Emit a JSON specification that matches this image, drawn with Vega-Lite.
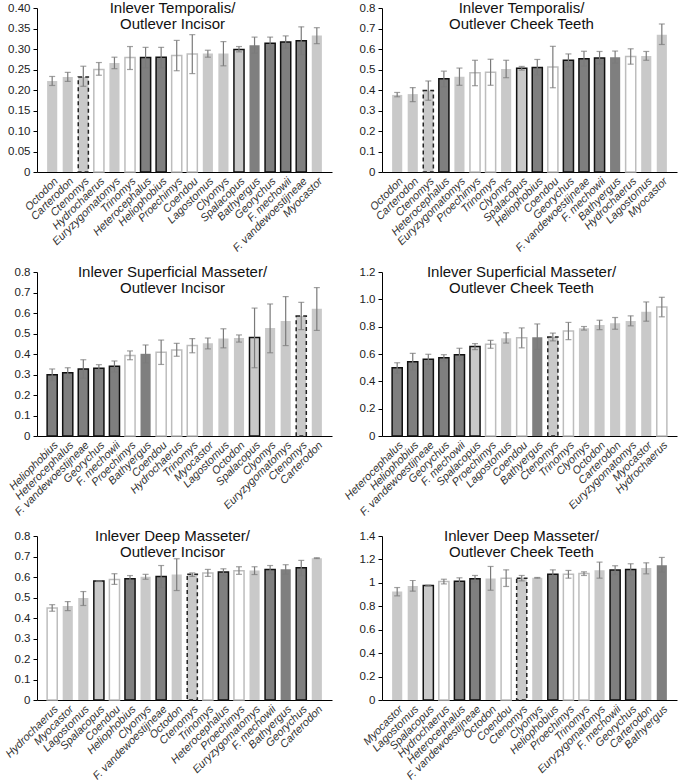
{
  "$schema": "https://vega.github.io/schema/vega-lite/v6.json",
  "padding": {"left": 3, "top": 1, "right": 3, "bottom": 0},
  "bounds": "flush",
  "columns": 2,
  "spacing": {"row": 100, "column": 50},
  "datasets": {
    "ratios": [
      {"panel": "TI", "species": "Octodon", "cls": "Octodontoidea", "value": 0.222, "lo": 0.211, "hi": 0.233},
      {"panel": "TI", "species": "Carterodon", "cls": "Octodontoidea", "value": 0.232, "lo": 0.221, "hi": 0.243},
      {"panel": "TI", "species": "Ctenomys", "cls": "Ctenomys", "value": 0.232, "lo": 0.209, "hi": 0.258},
      {"panel": "TI", "species": "Hydrochaerus", "cls": "Other", "value": 0.250, "lo": 0.236, "hi": 0.267},
      {"panel": "TI", "species": "Euryzygomatomys", "cls": "Octodontoidea", "value": 0.266, "lo": 0.252, "hi": 0.280},
      {"panel": "TI", "species": "Trinomys", "cls": "Other", "value": 0.279, "lo": 0.250, "hi": 0.306},
      {"panel": "TI", "species": "Heterocephalus", "cls": "Bathyergidae chisel", "value": 0.279, "lo": 0.254, "hi": 0.304},
      {"panel": "TI", "species": "Heliophobius", "cls": "Bathyergidae chisel", "value": 0.280, "lo": 0.254, "hi": 0.304},
      {"panel": "TI", "species": "Proechimys", "cls": "Other", "value": 0.284, "lo": 0.247, "hi": 0.321},
      {"panel": "TI", "species": "Coendou", "cls": "Other", "value": 0.288, "lo": 0.240, "hi": 0.335},
      {"panel": "TI", "species": "Lagostomus", "cls": "Octodontoidea", "value": 0.289, "lo": 0.280, "hi": 0.297},
      {"panel": "TI", "species": "Clyomys", "cls": "Octodontoidea", "value": 0.289, "lo": 0.259, "hi": 0.318},
      {"panel": "TI", "species": "Spalacopus", "cls": "Spalacopus", "value": 0.299, "lo": 0.293, "hi": 0.306},
      {"panel": "TI", "species": "Bathyergus", "cls": "Bathyergidae scratch", "value": 0.309, "lo": 0.290, "hi": 0.329},
      {"panel": "TI", "species": "Georychus", "cls": "Bathyergidae chisel", "value": 0.314, "lo": 0.299, "hi": 0.329},
      {"panel": "TI", "species": "F. mechowii", "cls": "Bathyergidae chisel", "value": 0.317, "lo": 0.302, "hi": 0.332},
      {"panel": "TI", "species": "F. vandewoestijneae", "cls": "Bathyergidae chisel", "value": 0.320, "lo": 0.286, "hi": 0.354},
      {"panel": "TI", "species": "Myocastor", "cls": "Octodontoidea", "value": 0.333, "lo": 0.313, "hi": 0.352},

      {"panel": "TC", "species": "Octodon", "cls": "Octodontoidea", "value": 0.376, "lo": 0.367, "hi": 0.388},
      {"panel": "TC", "species": "Carterodon", "cls": "Octodontoidea", "value": 0.380, "lo": 0.343, "hi": 0.412},
      {"panel": "TC", "species": "Ctenomys", "cls": "Ctenomys", "value": 0.397, "lo": 0.350, "hi": 0.444},
      {"panel": "TC", "species": "Heterocephalus", "cls": "Bathyergidae chisel", "value": 0.455, "lo": 0.416, "hi": 0.492},
      {"panel": "TC", "species": "Euryzygomatomys", "cls": "Octodontoidea", "value": 0.465, "lo": 0.423, "hi": 0.507},
      {"panel": "TC", "species": "Proechimys", "cls": "Other", "value": 0.484, "lo": 0.421, "hi": 0.545},
      {"panel": "TC", "species": "Trinomys", "cls": "Other", "value": 0.487, "lo": 0.423, "hi": 0.550},
      {"panel": "TC", "species": "Clyomys", "cls": "Octodontoidea", "value": 0.502, "lo": 0.460, "hi": 0.545},
      {"panel": "TC", "species": "Spalacopus", "cls": "Spalacopus", "value": 0.506, "lo": 0.497, "hi": 0.515},
      {"panel": "TC", "species": "Heliophobius", "cls": "Bathyergidae chisel", "value": 0.510, "lo": 0.474, "hi": 0.549},
      {"panel": "TC", "species": "Coendou", "cls": "Other", "value": 0.512, "lo": 0.411, "hi": 0.613},
      {"panel": "TC", "species": "Georychus", "cls": "Bathyergidae chisel", "value": 0.545, "lo": 0.513, "hi": 0.576},
      {"panel": "TC", "species": "F. vandewoestijneae", "cls": "Bathyergidae chisel", "value": 0.553, "lo": 0.517, "hi": 0.589},
      {"panel": "TC", "species": "F. mechowii", "cls": "Bathyergidae chisel", "value": 0.556, "lo": 0.527, "hi": 0.588},
      {"panel": "TC", "species": "Bathyergus", "cls": "Bathyergidae scratch", "value": 0.560, "lo": 0.531, "hi": 0.590},
      {"panel": "TC", "species": "Hydrochaerus", "cls": "Other", "value": 0.563, "lo": 0.526, "hi": 0.601},
      {"panel": "TC", "species": "Lagostomus", "cls": "Octodontoidea", "value": 0.566, "lo": 0.545, "hi": 0.588},
      {"panel": "TC", "species": "Myocastor", "cls": "Octodontoidea", "value": 0.670, "lo": 0.622, "hi": 0.722},

      {"panel": "SI", "species": "Heliophobius", "cls": "Bathyergidae chisel", "value": 0.299, "lo": 0.270, "hi": 0.327},
      {"panel": "SI", "species": "Heterocephalus", "cls": "Bathyergidae chisel", "value": 0.308, "lo": 0.283, "hi": 0.333},
      {"panel": "SI", "species": "F. vandewoestijneae", "cls": "Bathyergidae chisel", "value": 0.327, "lo": 0.281, "hi": 0.372},
      {"panel": "SI", "species": "Georychus", "cls": "Bathyergidae chisel", "value": 0.330, "lo": 0.312, "hi": 0.348},
      {"panel": "SI", "species": "F. mechowii", "cls": "Bathyergidae chisel", "value": 0.340, "lo": 0.312, "hi": 0.366},
      {"panel": "SI", "species": "Proechimys", "cls": "Other", "value": 0.393, "lo": 0.372, "hi": 0.415},
      {"panel": "SI", "species": "Bathyergus", "cls": "Bathyergidae scratch", "value": 0.401, "lo": 0.357, "hi": 0.444},
      {"panel": "SI", "species": "Coendou", "cls": "Other", "value": 0.408, "lo": 0.349, "hi": 0.468},
      {"panel": "SI", "species": "Hydrochaerus", "cls": "Other", "value": 0.420, "lo": 0.389, "hi": 0.452},
      {"panel": "SI", "species": "Trinomys", "cls": "Other", "value": 0.441, "lo": 0.406, "hi": 0.475},
      {"panel": "SI", "species": "Myocastor", "cls": "Octodontoidea", "value": 0.452, "lo": 0.425, "hi": 0.478},
      {"panel": "SI", "species": "Lagostomus", "cls": "Octodontoidea", "value": 0.476, "lo": 0.430, "hi": 0.523},
      {"panel": "SI", "species": "Octodon", "cls": "Octodontoidea", "value": 0.478, "lo": 0.458, "hi": 0.493},
      {"panel": "SI", "species": "Spalacopus", "cls": "Spalacopus", "value": 0.480, "lo": 0.333, "hi": 0.624},
      {"panel": "SI", "species": "Clyomys", "cls": "Octodontoidea", "value": 0.527, "lo": 0.406, "hi": 0.644},
      {"panel": "SI", "species": "Euryzygomatomys", "cls": "Octodontoidea", "value": 0.561, "lo": 0.441, "hi": 0.680},
      {"panel": "SI", "species": "Ctenomys", "cls": "Ctenomys", "value": 0.585, "lo": 0.519, "hi": 0.652},
      {"panel": "SI", "species": "Carterodon", "cls": "Octodontoidea", "value": 0.621, "lo": 0.515, "hi": 0.724},

      {"panel": "SC", "species": "Heterocephalus", "cls": "Bathyergidae chisel", "value": 0.500, "lo": 0.458, "hi": 0.536},
      {"panel": "SC", "species": "Heliophobius", "cls": "Bathyergidae chisel", "value": 0.544, "lo": 0.483, "hi": 0.605},
      {"panel": "SC", "species": "F. vandewoestijneae", "cls": "Bathyergidae chisel", "value": 0.561, "lo": 0.524, "hi": 0.598},
      {"panel": "SC", "species": "Georychus", "cls": "Bathyergidae chisel", "value": 0.573, "lo": 0.549, "hi": 0.595},
      {"panel": "SC", "species": "F. mechowii", "cls": "Bathyergidae chisel", "value": 0.595, "lo": 0.551, "hi": 0.642},
      {"panel": "SC", "species": "Spalacopus", "cls": "Spalacopus", "value": 0.654, "lo": 0.632, "hi": 0.676},
      {"panel": "SC", "species": "Proechimys", "cls": "Other", "value": 0.671, "lo": 0.642, "hi": 0.700},
      {"panel": "SC", "species": "Lagostomus", "cls": "Octodontoidea", "value": 0.716, "lo": 0.680, "hi": 0.755},
      {"panel": "SC", "species": "Coendou", "cls": "Other", "value": 0.718, "lo": 0.645, "hi": 0.791},
      {"panel": "SC", "species": "Bathyergus", "cls": "Bathyergidae scratch", "value": 0.722, "lo": 0.634, "hi": 0.820},
      {"panel": "SC", "species": "Ctenomys", "cls": "Ctenomys", "value": 0.725, "lo": 0.696, "hi": 0.753},
      {"panel": "SC", "species": "Trinomys", "cls": "Other", "value": 0.769, "lo": 0.705, "hi": 0.831},
      {"panel": "SC", "species": "Clyomys", "cls": "Octodontoidea", "value": 0.789, "lo": 0.775, "hi": 0.801},
      {"panel": "SC", "species": "Octodon", "cls": "Octodontoidea", "value": 0.813, "lo": 0.778, "hi": 0.847},
      {"panel": "SC", "species": "Carterodon", "cls": "Octodontoidea", "value": 0.825, "lo": 0.781, "hi": 0.867},
      {"panel": "SC", "species": "Euryzygomatomys", "cls": "Octodontoidea", "value": 0.842, "lo": 0.806, "hi": 0.879},
      {"panel": "SC", "species": "Myocastor", "cls": "Octodontoidea", "value": 0.909, "lo": 0.840, "hi": 0.981},
      {"panel": "SC", "species": "Hydrochaerus", "cls": "Other", "value": 0.943, "lo": 0.872, "hi": 1.015},

      {"panel": "DI", "species": "Hydrochaerus", "cls": "Other", "value": 0.449, "lo": 0.433, "hi": 0.465},
      {"panel": "DI", "species": "Myocastor", "cls": "Octodontoidea", "value": 0.459, "lo": 0.436, "hi": 0.480},
      {"panel": "DI", "species": "Lagostomus", "cls": "Octodontoidea", "value": 0.497, "lo": 0.461, "hi": 0.529},
      {"panel": "DI", "species": "Spalacopus", "cls": "Spalacopus", "value": 0.580, "lo": 0.578, "hi": 0.582},
      {"panel": "DI", "species": "Coendou", "cls": "Other", "value": 0.588, "lo": 0.564, "hi": 0.616},
      {"panel": "DI", "species": "Heliophobius", "cls": "Bathyergidae chisel", "value": 0.591, "lo": 0.573, "hi": 0.607},
      {"panel": "DI", "species": "Clyomys", "cls": "Octodontoidea", "value": 0.601, "lo": 0.589, "hi": 0.613},
      {"panel": "DI", "species": "F. vandewoestijneae", "cls": "Bathyergidae chisel", "value": 0.603, "lo": 0.548, "hi": 0.656},
      {"panel": "DI", "species": "Octodon", "cls": "Octodontoidea", "value": 0.612, "lo": 0.534, "hi": 0.689},
      {"panel": "DI", "species": "Ctenomys", "cls": "Ctenomys", "value": 0.613, "lo": 0.603, "hi": 0.620},
      {"panel": "DI", "species": "Trinomys", "cls": "Other", "value": 0.620, "lo": 0.603, "hi": 0.637},
      {"panel": "DI", "species": "Heterocephalus", "cls": "Bathyergidae chisel", "value": 0.624, "lo": 0.607, "hi": 0.640},
      {"panel": "DI", "species": "Proechimys", "cls": "Other", "value": 0.631, "lo": 0.613, "hi": 0.650},
      {"panel": "DI", "species": "Euryzygomatomys", "cls": "Octodontoidea", "value": 0.632, "lo": 0.612, "hi": 0.650},
      {"panel": "DI", "species": "F. mechowii", "cls": "Bathyergidae chisel", "value": 0.637, "lo": 0.617, "hi": 0.656},
      {"panel": "DI", "species": "Bathyergus", "cls": "Bathyergidae scratch", "value": 0.638, "lo": 0.614, "hi": 0.660},
      {"panel": "DI", "species": "Georychus", "cls": "Bathyergidae chisel", "value": 0.645, "lo": 0.607, "hi": 0.681},
      {"panel": "DI", "species": "Carterodon", "cls": "Octodontoidea", "value": 0.692, "lo": 0.690, "hi": 0.694},

      {"panel": "DC", "species": "Myocastor", "cls": "Octodontoidea", "value": 0.926, "lo": 0.889, "hi": 0.960},
      {"panel": "DC", "species": "Lagostomus", "cls": "Octodontoidea", "value": 0.974, "lo": 0.929, "hi": 1.020},
      {"panel": "DC", "species": "Spalacopus", "cls": "Spalacopus", "value": 0.977, "lo": 0.974, "hi": 0.980},
      {"panel": "DC", "species": "Hydrochaerus", "cls": "Other", "value": 1.011, "lo": 0.991, "hi": 1.031},
      {"panel": "DC", "species": "Heterocephalus", "cls": "Bathyergidae chisel", "value": 1.014, "lo": 0.986, "hi": 1.043},
      {"panel": "DC", "species": "F. vandewoestijneae", "cls": "Bathyergidae chisel", "value": 1.034, "lo": 1.006, "hi": 1.063},
      {"panel": "DC", "species": "Octodon", "cls": "Octodontoidea", "value": 1.038, "lo": 0.937, "hi": 1.140},
      {"panel": "DC", "species": "Coendou", "cls": "Other", "value": 1.039, "lo": 0.969, "hi": 1.111},
      {"panel": "DC", "species": "Ctenomys", "cls": "Ctenomys", "value": 1.040, "lo": 1.017, "hi": 1.063},
      {"panel": "DC", "species": "Clyomys", "cls": "Octodontoidea", "value": 1.043, "lo": 1.040, "hi": 1.046},
      {"panel": "DC", "species": "Heliophobius", "cls": "Bathyergidae chisel", "value": 1.073, "lo": 1.034, "hi": 1.111},
      {"panel": "DC", "species": "Proechimys", "cls": "Other", "value": 1.074, "lo": 1.040, "hi": 1.106},
      {"panel": "DC", "species": "Trinomys", "cls": "Other", "value": 1.080, "lo": 1.063, "hi": 1.094},
      {"panel": "DC", "species": "Euryzygomatomys", "cls": "Octodontoidea", "value": 1.108, "lo": 1.040, "hi": 1.177},
      {"panel": "DC", "species": "F. mechowii", "cls": "Bathyergidae chisel", "value": 1.109, "lo": 1.071, "hi": 1.146},
      {"panel": "DC", "species": "Georychus", "cls": "Bathyergidae chisel", "value": 1.114, "lo": 1.066, "hi": 1.163},
      {"panel": "DC", "species": "Carterodon", "cls": "Octodontoidea", "value": 1.126, "lo": 1.077, "hi": 1.171},
      {"panel": "DC", "species": "Bathyergus", "cls": "Bathyergidae scratch", "value": 1.151, "lo": 1.091, "hi": 1.217}
    ]
  },
  "concat": [
    {
      "title": {"text": ["Inlever Temporalis/", "Outlever Incisor"], "dx": -12},
      "width": 295, "height": 164,
      "data": {"name": "ratios"},
      "transform": [{"filter": "datum.panel == 'TI'"}],
      "encoding": {
        "x": {"field": "species", "type": "nominal", "sort": {"field": "value", "op": "mean"}, "title": null, "scale": {"paddingInner": 0.35, "paddingOuter": 0.65}}
      },
      "layer": [
        {"mark": {"type": "bar", "strokeWidth": 1.5},
         "encoding": {
           "y": {"field": "value", "type": "quantitative", "title": null, "scale": {"domain": [0, 0.4], "nice": false}, "axis": {"values": [0, 0.05, 0.1, 0.15, 0.2, 0.25, 0.3, 0.35, 0.4], "labelExpr": "datum.value == 0 ? '0' : format(datum.value, '.2f')"}},
           "fill": {"field": "cls", "type": "nominal", "legend": null, "scale": {"domain": ["Bathyergidae chisel", "Bathyergidae scratch", "Octodontoidea", "Spalacopus", "Ctenomys", "Other"], "range": ["#7f7f7f", "#7f7f7f", "#c9c9c9", "#c9c9c9", "#c9c9c9", "#ffffff"]}},
           "stroke": {"field": "cls", "type": "nominal", "legend": null, "scale": {"domain": ["Bathyergidae chisel", "Bathyergidae scratch", "Octodontoidea", "Spalacopus", "Ctenomys", "Other"], "range": ["#111111", "transparent", "transparent", "#111111", "#222222", "#bdbdbd"]}},
           "strokeDash": {"field": "cls", "type": "nominal", "legend": null, "scale": {"domain": ["Bathyergidae chisel", "Bathyergidae scratch", "Octodontoidea", "Spalacopus", "Ctenomys", "Other"], "range": [[1, 0], [1, 0], [1, 0], [1, 0], [4, 3], [1, 0]]}}
         }},
        {"mark": {"type": "rule", "color": "#7a7a7a", "strokeWidth": 1.2}, "encoding": {"y": {"field": "lo", "type": "quantitative", "title": null, "axis": {"values": [0, 0.05, 0.1, 0.15, 0.2, 0.25, 0.3, 0.35, 0.4], "labelExpr": "datum.value == 0 ? '0' : format(datum.value, '.2f')"}}, "y2": {"field": "hi"}}},
        {"mark": {"type": "tick", "color": "#7a7a7a", "thickness": 1.2, "size": 6}, "encoding": {"y": {"field": "lo", "type": "quantitative", "title": null, "axis": {"values": [0, 0.05, 0.1, 0.15, 0.2, 0.25, 0.3, 0.35, 0.4], "labelExpr": "datum.value == 0 ? '0' : format(datum.value, '.2f')"}}}},
        {"mark": {"type": "tick", "color": "#7a7a7a", "thickness": 1.2, "size": 6}, "encoding": {"y": {"field": "hi", "type": "quantitative", "title": null, "axis": {"values": [0, 0.05, 0.1, 0.15, 0.2, 0.25, 0.3, 0.35, 0.4], "labelExpr": "datum.value == 0 ? '0' : format(datum.value, '.2f')"}}}}
      ]
    },
    {
      "title": {"text": ["Inlever Temporalis/", "Outlever Cheek Teeth"], "dx": -8},
      "width": 295, "height": 164,
      "data": {"name": "ratios"},
      "transform": [{"filter": "datum.panel == 'TC'"}],
      "encoding": {
        "x": {"field": "species", "type": "nominal", "sort": {"field": "value", "op": "mean"}, "title": null, "scale": {"paddingInner": 0.35, "paddingOuter": 0.65}}
      },
      "layer": [
        {"mark": {"type": "bar", "strokeWidth": 1.5},
         "encoding": {
           "y": {"field": "value", "type": "quantitative", "title": null, "scale": {"domain": [0, 0.8], "nice": false}, "axis": {"values": [0, 0.1, 0.2, 0.3, 0.4, 0.5, 0.6, 0.7, 0.8], "labelExpr": "datum.value == 0 ? '0' : format(datum.value, '.1f')"}},
           "fill": {"field": "cls", "type": "nominal", "legend": null, "scale": {"domain": ["Bathyergidae chisel", "Bathyergidae scratch", "Octodontoidea", "Spalacopus", "Ctenomys", "Other"], "range": ["#7f7f7f", "#7f7f7f", "#c9c9c9", "#c9c9c9", "#c9c9c9", "#ffffff"]}},
           "stroke": {"field": "cls", "type": "nominal", "legend": null, "scale": {"domain": ["Bathyergidae chisel", "Bathyergidae scratch", "Octodontoidea", "Spalacopus", "Ctenomys", "Other"], "range": ["#111111", "transparent", "transparent", "#111111", "#222222", "#bdbdbd"]}},
           "strokeDash": {"field": "cls", "type": "nominal", "legend": null, "scale": {"domain": ["Bathyergidae chisel", "Bathyergidae scratch", "Octodontoidea", "Spalacopus", "Ctenomys", "Other"], "range": [[1, 0], [1, 0], [1, 0], [1, 0], [4, 3], [1, 0]]}}
         }},
        {"mark": {"type": "rule", "color": "#7a7a7a", "strokeWidth": 1.2}, "encoding": {"y": {"field": "lo", "type": "quantitative", "title": null, "axis": {"values": [0, 0.1, 0.2, 0.3, 0.4, 0.5, 0.6, 0.7, 0.8], "labelExpr": "datum.value == 0 ? '0' : format(datum.value, '.1f')"}}, "y2": {"field": "hi"}}},
        {"mark": {"type": "tick", "color": "#7a7a7a", "thickness": 1.2, "size": 6}, "encoding": {"y": {"field": "lo", "type": "quantitative", "title": null, "axis": {"values": [0, 0.1, 0.2, 0.3, 0.4, 0.5, 0.6, 0.7, 0.8], "labelExpr": "datum.value == 0 ? '0' : format(datum.value, '.1f')"}}}},
        {"mark": {"type": "tick", "color": "#7a7a7a", "thickness": 1.2, "size": 6}, "encoding": {"y": {"field": "hi", "type": "quantitative", "title": null, "axis": {"values": [0, 0.1, 0.2, 0.3, 0.4, 0.5, 0.6, 0.7, 0.8], "labelExpr": "datum.value == 0 ? '0' : format(datum.value, '.1f')"}}}}
      ]
    },
    {
      "title": {"text": ["Inlever Superficial Masseter/", "Outlever Incisor"], "dx": -12},
      "width": 295, "height": 164,
      "data": {"name": "ratios"},
      "transform": [{"filter": "datum.panel == 'SI'"}],
      "encoding": {
        "x": {"field": "species", "type": "nominal", "sort": {"field": "value", "op": "mean"}, "title": null, "scale": {"paddingInner": 0.35, "paddingOuter": 0.65}}
      },
      "layer": [
        {"mark": {"type": "bar", "strokeWidth": 1.5},
         "encoding": {
           "y": {"field": "value", "type": "quantitative", "title": null, "scale": {"domain": [0, 0.8], "nice": false}, "axis": {"values": [0, 0.1, 0.2, 0.3, 0.4, 0.5, 0.6, 0.7, 0.8], "labelExpr": "datum.value == 0 ? '0' : format(datum.value, '.1f')"}},
           "fill": {"field": "cls", "type": "nominal", "legend": null, "scale": {"domain": ["Bathyergidae chisel", "Bathyergidae scratch", "Octodontoidea", "Spalacopus", "Ctenomys", "Other"], "range": ["#7f7f7f", "#7f7f7f", "#c9c9c9", "#c9c9c9", "#c9c9c9", "#ffffff"]}},
           "stroke": {"field": "cls", "type": "nominal", "legend": null, "scale": {"domain": ["Bathyergidae chisel", "Bathyergidae scratch", "Octodontoidea", "Spalacopus", "Ctenomys", "Other"], "range": ["#111111", "transparent", "transparent", "#111111", "#222222", "#bdbdbd"]}},
           "strokeDash": {"field": "cls", "type": "nominal", "legend": null, "scale": {"domain": ["Bathyergidae chisel", "Bathyergidae scratch", "Octodontoidea", "Spalacopus", "Ctenomys", "Other"], "range": [[1, 0], [1, 0], [1, 0], [1, 0], [4, 3], [1, 0]]}}
         }},
        {"mark": {"type": "rule", "color": "#7a7a7a", "strokeWidth": 1.2}, "encoding": {"y": {"field": "lo", "type": "quantitative", "title": null, "axis": {"values": [0, 0.1, 0.2, 0.3, 0.4, 0.5, 0.6, 0.7, 0.8], "labelExpr": "datum.value == 0 ? '0' : format(datum.value, '.1f')"}}, "y2": {"field": "hi"}}},
        {"mark": {"type": "tick", "color": "#7a7a7a", "thickness": 1.2, "size": 6}, "encoding": {"y": {"field": "lo", "type": "quantitative", "title": null, "axis": {"values": [0, 0.1, 0.2, 0.3, 0.4, 0.5, 0.6, 0.7, 0.8], "labelExpr": "datum.value == 0 ? '0' : format(datum.value, '.1f')"}}}},
        {"mark": {"type": "tick", "color": "#7a7a7a", "thickness": 1.2, "size": 6}, "encoding": {"y": {"field": "hi", "type": "quantitative", "title": null, "axis": {"values": [0, 0.1, 0.2, 0.3, 0.4, 0.5, 0.6, 0.7, 0.8], "labelExpr": "datum.value == 0 ? '0' : format(datum.value, '.1f')"}}}}
      ]
    },
    {
      "title": {"text": ["Inlever Superficial Masseter/", "Outlever Cheek Teeth"], "dx": -8},
      "width": 295, "height": 164,
      "data": {"name": "ratios"},
      "transform": [{"filter": "datum.panel == 'SC'"}],
      "encoding": {
        "x": {"field": "species", "type": "nominal", "sort": {"field": "value", "op": "mean"}, "title": null, "scale": {"paddingInner": 0.35, "paddingOuter": 0.65}}
      },
      "layer": [
        {"mark": {"type": "bar", "strokeWidth": 1.5},
         "encoding": {
           "y": {"field": "value", "type": "quantitative", "title": null, "scale": {"domain": [0, 1.2], "nice": false}, "axis": {"values": [0, 0.2, 0.4, 0.6, 0.8, 1.0, 1.2], "labelExpr": "datum.value == 0 ? '0' : format(datum.value, '.1f')"}},
           "fill": {"field": "cls", "type": "nominal", "legend": null, "scale": {"domain": ["Bathyergidae chisel", "Bathyergidae scratch", "Octodontoidea", "Spalacopus", "Ctenomys", "Other"], "range": ["#7f7f7f", "#7f7f7f", "#c9c9c9", "#c9c9c9", "#c9c9c9", "#ffffff"]}},
           "stroke": {"field": "cls", "type": "nominal", "legend": null, "scale": {"domain": ["Bathyergidae chisel", "Bathyergidae scratch", "Octodontoidea", "Spalacopus", "Ctenomys", "Other"], "range": ["#111111", "transparent", "transparent", "#111111", "#222222", "#bdbdbd"]}},
           "strokeDash": {"field": "cls", "type": "nominal", "legend": null, "scale": {"domain": ["Bathyergidae chisel", "Bathyergidae scratch", "Octodontoidea", "Spalacopus", "Ctenomys", "Other"], "range": [[1, 0], [1, 0], [1, 0], [1, 0], [4, 3], [1, 0]]}}
         }},
        {"mark": {"type": "rule", "color": "#7a7a7a", "strokeWidth": 1.2}, "encoding": {"y": {"field": "lo", "type": "quantitative", "title": null, "axis": {"values": [0, 0.2, 0.4, 0.6, 0.8, 1.0, 1.2], "labelExpr": "datum.value == 0 ? '0' : format(datum.value, '.1f')"}}, "y2": {"field": "hi"}}},
        {"mark": {"type": "tick", "color": "#7a7a7a", "thickness": 1.2, "size": 6}, "encoding": {"y": {"field": "lo", "type": "quantitative", "title": null, "axis": {"values": [0, 0.2, 0.4, 0.6, 0.8, 1.0, 1.2], "labelExpr": "datum.value == 0 ? '0' : format(datum.value, '.1f')"}}}},
        {"mark": {"type": "tick", "color": "#7a7a7a", "thickness": 1.2, "size": 6}, "encoding": {"y": {"field": "hi", "type": "quantitative", "title": null, "axis": {"values": [0, 0.2, 0.4, 0.6, 0.8, 1.0, 1.2], "labelExpr": "datum.value == 0 ? '0' : format(datum.value, '.1f')"}}}}
      ]
    },
    {
      "title": {"text": ["Inlever Deep Masseter/", "Outlever Incisor"], "dx": -12},
      "width": 295, "height": 164,
      "data": {"name": "ratios"},
      "transform": [{"filter": "datum.panel == 'DI'"}],
      "encoding": {
        "x": {"field": "species", "type": "nominal", "sort": {"field": "value", "op": "mean"}, "title": null, "scale": {"paddingInner": 0.35, "paddingOuter": 0.65}}
      },
      "layer": [
        {"mark": {"type": "bar", "strokeWidth": 1.5},
         "encoding": {
           "y": {"field": "value", "type": "quantitative", "title": null, "scale": {"domain": [0, 0.8], "nice": false}, "axis": {"values": [0, 0.1, 0.2, 0.3, 0.4, 0.5, 0.6, 0.7, 0.8], "labelExpr": "datum.value == 0 ? '0' : format(datum.value, '.1f')"}},
           "fill": {"field": "cls", "type": "nominal", "legend": null, "scale": {"domain": ["Bathyergidae chisel", "Bathyergidae scratch", "Octodontoidea", "Spalacopus", "Ctenomys", "Other"], "range": ["#7f7f7f", "#7f7f7f", "#c9c9c9", "#c9c9c9", "#c9c9c9", "#ffffff"]}},
           "stroke": {"field": "cls", "type": "nominal", "legend": null, "scale": {"domain": ["Bathyergidae chisel", "Bathyergidae scratch", "Octodontoidea", "Spalacopus", "Ctenomys", "Other"], "range": ["#111111", "transparent", "transparent", "#111111", "#222222", "#bdbdbd"]}},
           "strokeDash": {"field": "cls", "type": "nominal", "legend": null, "scale": {"domain": ["Bathyergidae chisel", "Bathyergidae scratch", "Octodontoidea", "Spalacopus", "Ctenomys", "Other"], "range": [[1, 0], [1, 0], [1, 0], [1, 0], [4, 3], [1, 0]]}}
         }},
        {"mark": {"type": "rule", "color": "#7a7a7a", "strokeWidth": 1.2}, "encoding": {"y": {"field": "lo", "type": "quantitative", "title": null, "axis": {"values": [0, 0.1, 0.2, 0.3, 0.4, 0.5, 0.6, 0.7, 0.8], "labelExpr": "datum.value == 0 ? '0' : format(datum.value, '.1f')"}}, "y2": {"field": "hi"}}},
        {"mark": {"type": "tick", "color": "#7a7a7a", "thickness": 1.2, "size": 6}, "encoding": {"y": {"field": "lo", "type": "quantitative", "title": null, "axis": {"values": [0, 0.1, 0.2, 0.3, 0.4, 0.5, 0.6, 0.7, 0.8], "labelExpr": "datum.value == 0 ? '0' : format(datum.value, '.1f')"}}}},
        {"mark": {"type": "tick", "color": "#7a7a7a", "thickness": 1.2, "size": 6}, "encoding": {"y": {"field": "hi", "type": "quantitative", "title": null, "axis": {"values": [0, 0.1, 0.2, 0.3, 0.4, 0.5, 0.6, 0.7, 0.8], "labelExpr": "datum.value == 0 ? '0' : format(datum.value, '.1f')"}}}}
      ]
    },
    {
      "title": {"text": ["Inlever Deep Masseter/", "Outlever Cheek Teeth"], "dx": -8},
      "width": 295, "height": 164,
      "data": {"name": "ratios"},
      "transform": [{"filter": "datum.panel == 'DC'"}],
      "encoding": {
        "x": {"field": "species", "type": "nominal", "sort": {"field": "value", "op": "mean"}, "title": null, "scale": {"paddingInner": 0.35, "paddingOuter": 0.65}}
      },
      "layer": [
        {"mark": {"type": "bar", "strokeWidth": 1.5},
         "encoding": {
           "y": {"field": "value", "type": "quantitative", "title": null, "scale": {"domain": [0, 1.4], "nice": false}, "axis": {"values": [0, 0.2, 0.4, 0.6, 0.8, 1.0, 1.2, 1.4], "labelExpr": "format(datum.value, '~g')"}},
           "fill": {"field": "cls", "type": "nominal", "legend": null, "scale": {"domain": ["Bathyergidae chisel", "Bathyergidae scratch", "Octodontoidea", "Spalacopus", "Ctenomys", "Other"], "range": ["#7f7f7f", "#7f7f7f", "#c9c9c9", "#c9c9c9", "#c9c9c9", "#ffffff"]}},
           "stroke": {"field": "cls", "type": "nominal", "legend": null, "scale": {"domain": ["Bathyergidae chisel", "Bathyergidae scratch", "Octodontoidea", "Spalacopus", "Ctenomys", "Other"], "range": ["#111111", "transparent", "transparent", "#111111", "#222222", "#bdbdbd"]}},
           "strokeDash": {"field": "cls", "type": "nominal", "legend": null, "scale": {"domain": ["Bathyergidae chisel", "Bathyergidae scratch", "Octodontoidea", "Spalacopus", "Ctenomys", "Other"], "range": [[1, 0], [1, 0], [1, 0], [1, 0], [4, 3], [1, 0]]}}
         }},
        {"mark": {"type": "rule", "color": "#7a7a7a", "strokeWidth": 1.2}, "encoding": {"y": {"field": "lo", "type": "quantitative", "title": null, "axis": {"values": [0, 0.2, 0.4, 0.6, 0.8, 1.0, 1.2, 1.4], "labelExpr": "format(datum.value, '~g')"}}, "y2": {"field": "hi"}}},
        {"mark": {"type": "tick", "color": "#7a7a7a", "thickness": 1.2, "size": 6}, "encoding": {"y": {"field": "lo", "type": "quantitative", "title": null, "axis": {"values": [0, 0.2, 0.4, 0.6, 0.8, 1.0, 1.2, 1.4], "labelExpr": "format(datum.value, '~g')"}}}},
        {"mark": {"type": "tick", "color": "#7a7a7a", "thickness": 1.2, "size": 6}, "encoding": {"y": {"field": "hi", "type": "quantitative", "title": null, "axis": {"values": [0, 0.2, 0.4, 0.6, 0.8, 1.0, 1.2, 1.4], "labelExpr": "format(datum.value, '~g')"}}}}
      ]
    }
  ],
  "resolve": {"scale": {"fill": "independent", "stroke": "independent", "strokeDash": "independent"}},
  "config": {
    "font": "Liberation Sans",
    "view": {"stroke": null},
    "title": {"font": "Liberation Sans", "fontSize": 15, "fontWeight": "normal", "color": "#111111", "anchor": "middle", "offset": -30, "lineHeight": 16},
    "axis": {"grid": false, "domain": true, "domainColor": "#000000", "tickColor": "#000000", "labelFont": "Liberation Sans", "labelFontSize": 11.5, "labelColor": "#222222", "domainWidth": 1},
    "axisY": {"tickSize": 4, "labelPadding": 3, "labelOverlap": false},
    "axisX": {"ticks": false, "labelAngle": -45, "labelFontStyle": "italic", "labelFontSize": 11, "labelPadding": 3, "labelOverlap": false, "labelColor": "#333333", "domain": true, "domainColor": "#000000"}
  }
}
